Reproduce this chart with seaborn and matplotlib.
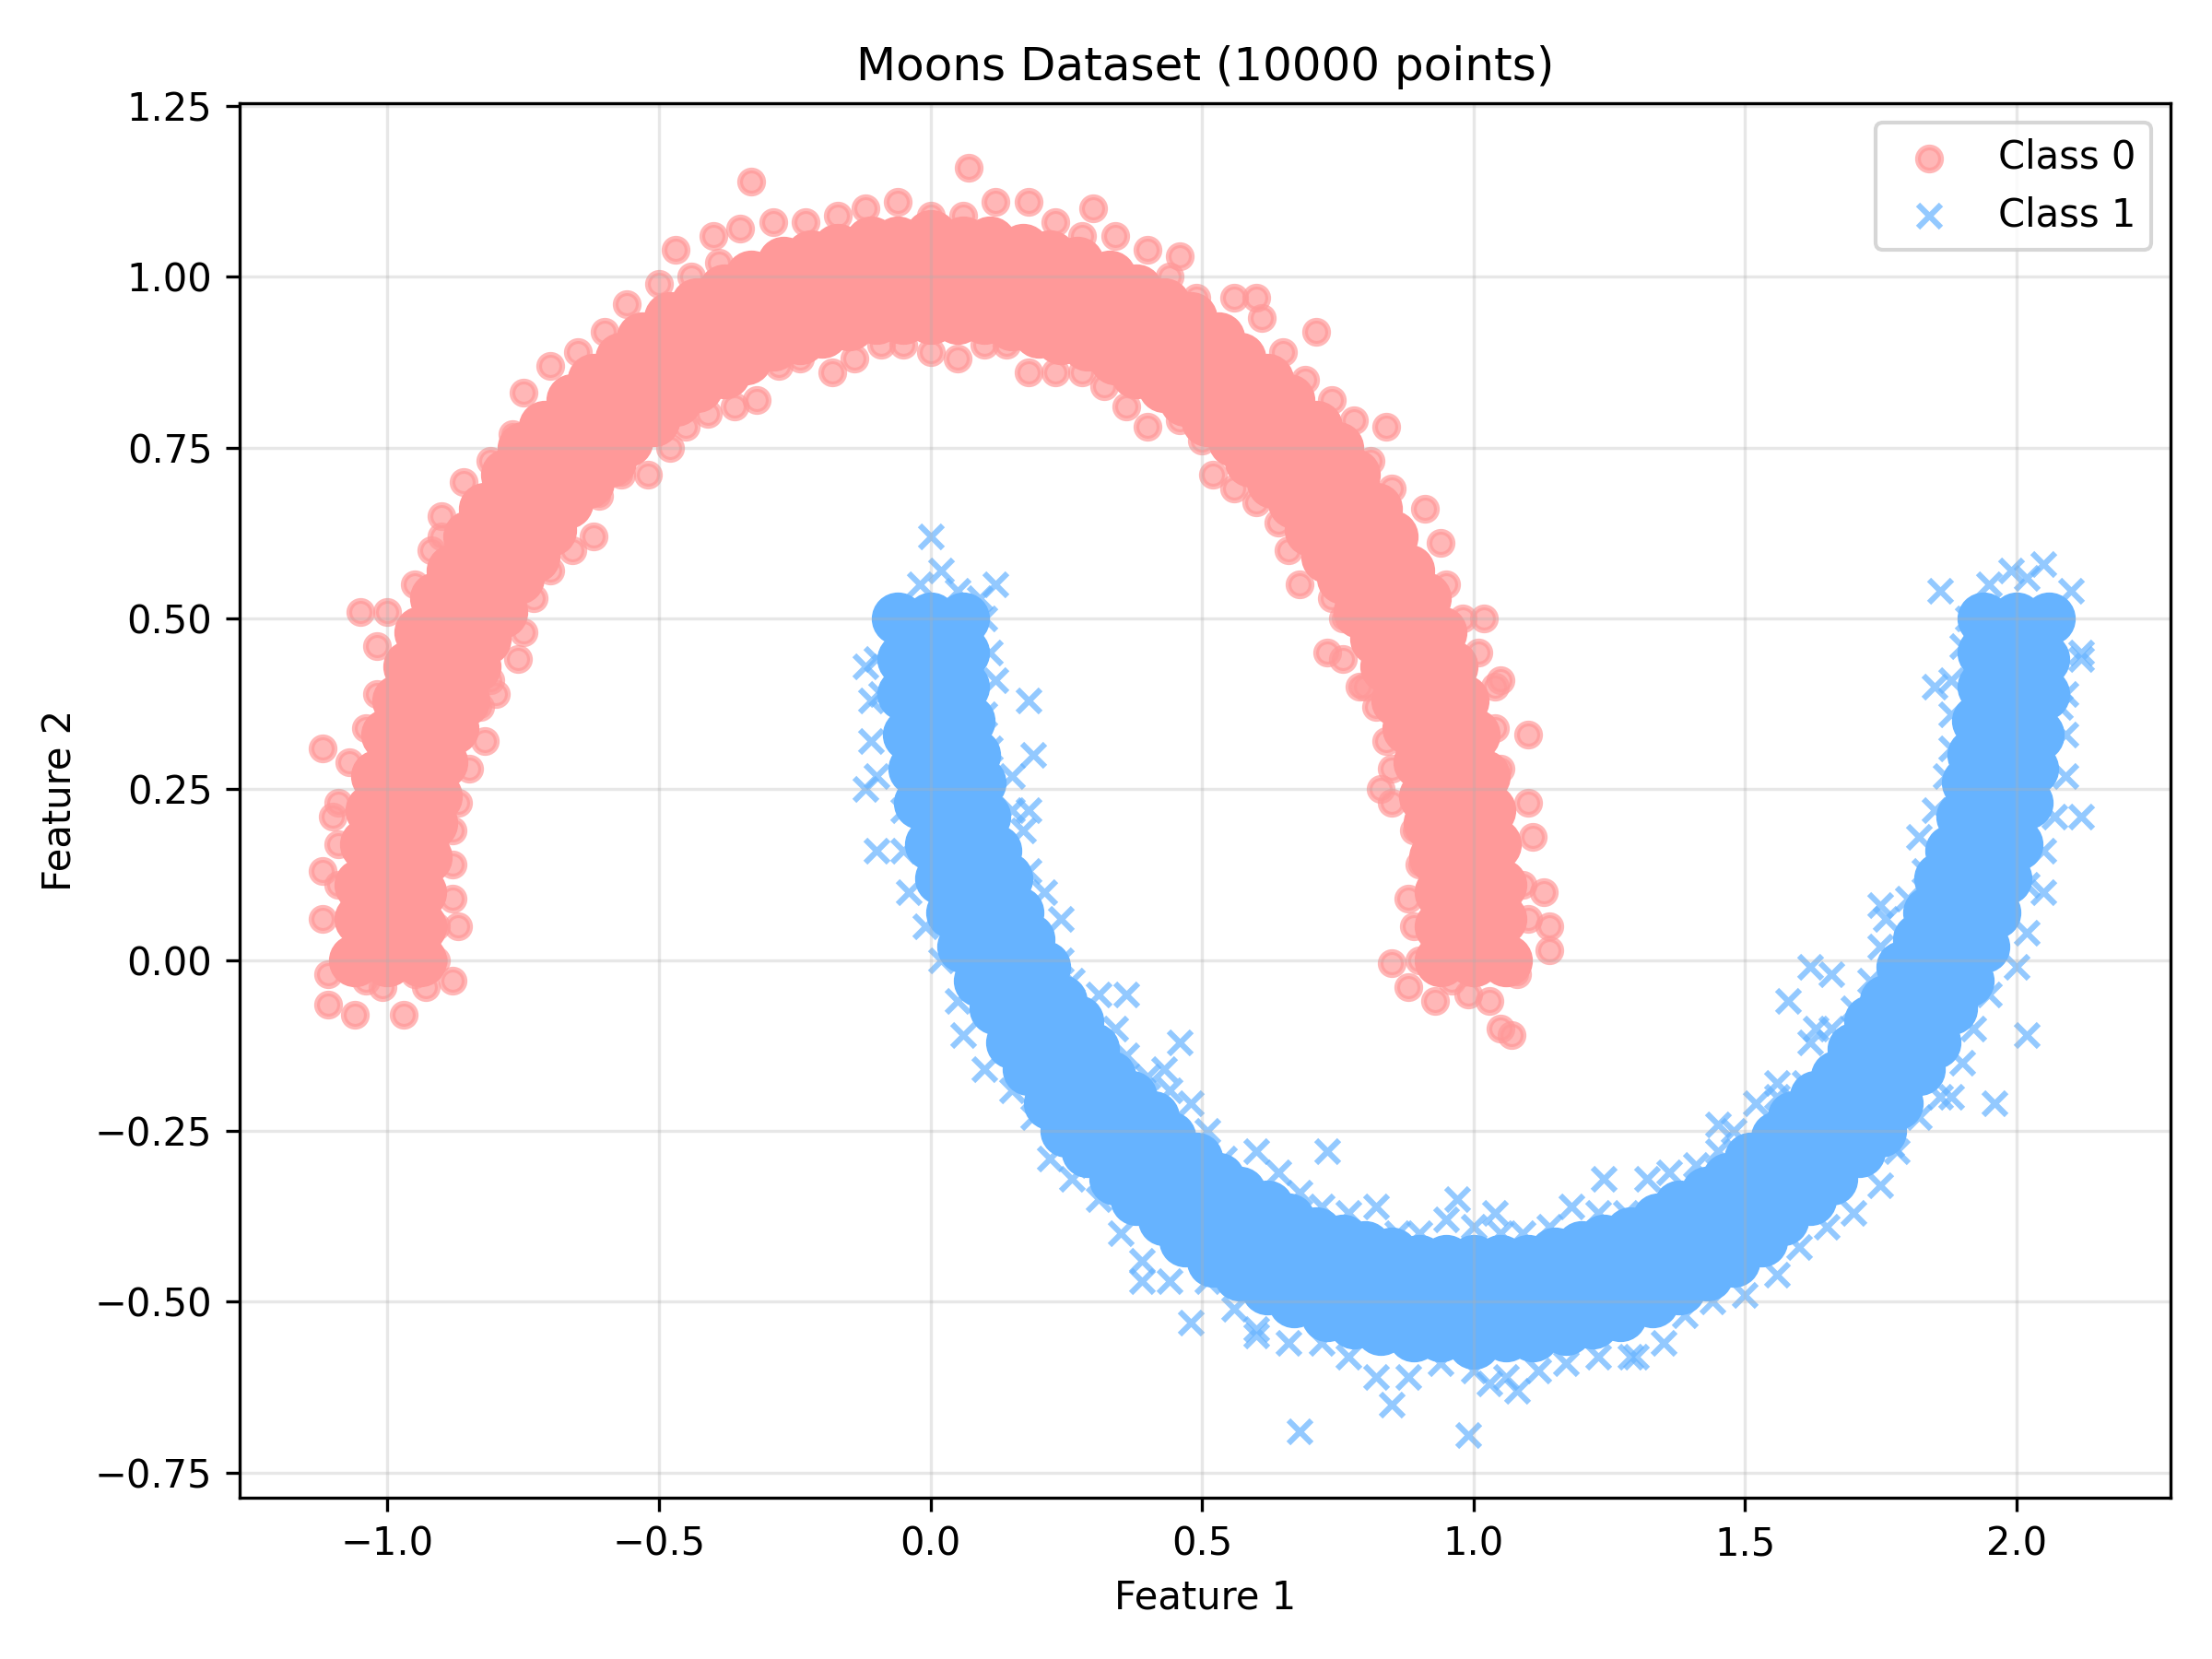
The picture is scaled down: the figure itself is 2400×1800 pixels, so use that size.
import matplotlib
matplotlib.use("Agg")
import matplotlib.pyplot as plt
import seaborn as sns

# --- Class 0 (upper moon): dense core of the band, read as three rows ---
c0_row1_x = [0.94, 0.94, 0.94, 0.93, 0.92, 0.91, 0.90, 0.88, 0.86, 0.84, 0.82, 0.79, 0.76, 0.73, 0.70, 0.67,
             0.63, 0.59, 0.56, 0.51, 0.47, 0.43, 0.38, 0.34, 0.29, 0.24, 0.20, 0.15, 0.10, 0.05, 0.00,
             -0.05, -0.10, -0.15, -0.20, -0.24, -0.29, -0.34, -0.38, -0.43, -0.47, -0.51, -0.56, -0.59, -0.63,
             -0.67, -0.70, -0.73, -0.76, -0.79, -0.82, -0.84, -0.86, -0.88, -0.90, -0.91, -0.92, -0.93, -0.94,
             -0.94, -0.94]
c0_row1_y = [0.00, 0.05, 0.10, 0.15, 0.20, 0.24, 0.29, 0.34, 0.38, 0.43, 0.47, 0.51, 0.56, 0.59, 0.63, 0.67,
             0.70, 0.73, 0.76, 0.79, 0.82, 0.84, 0.86, 0.88, 0.90, 0.91, 0.92, 0.93, 0.94, 0.94, 0.94,
             0.94, 0.94, 0.93, 0.92, 0.91, 0.90, 0.88, 0.86, 0.84, 0.82, 0.79, 0.76, 0.73, 0.70,
             0.67, 0.63, 0.59, 0.56, 0.51, 0.47, 0.43, 0.38, 0.34, 0.29, 0.24, 0.20, 0.15, 0.10,
             0.05, 0.00]
c0_row2_x = [1.00, 1.00, 0.99, 0.99, 0.98, 0.97, 0.95, 0.93, 0.91, 0.89, 0.87, 0.84, 0.81, 0.78, 0.74, 0.71,
             0.67, 0.63, 0.59, 0.54, 0.50, 0.45, 0.41, 0.36, 0.31, 0.26, 0.21, 0.16, 0.10, 0.05, 0.00,
             -0.05, -0.10, -0.16, -0.21, -0.26, -0.31, -0.36, -0.41, -0.45, -0.50, -0.54, -0.59, -0.63, -0.67,
             -0.71, -0.74, -0.78, -0.81, -0.84, -0.87, -0.89, -0.91, -0.93, -0.95, -0.97, -0.98, -0.99, -0.99,
             -1.00, -1.00]
c0_row2_y = [0.00, 0.05, 0.10, 0.16, 0.21, 0.26, 0.31, 0.36, 0.41, 0.45, 0.50, 0.54, 0.59, 0.63, 0.67, 0.71,
             0.74, 0.78, 0.81, 0.84, 0.87, 0.89, 0.91, 0.93, 0.95, 0.97, 0.98, 0.99, 0.99, 1.00, 1.00,
             1.00, 0.99, 0.99, 0.98, 0.97, 0.95, 0.93, 0.91, 0.89, 0.87, 0.84, 0.81, 0.78, 0.74,
             0.71, 0.67, 0.63, 0.59, 0.54, 0.50, 0.45, 0.41, 0.36, 0.31, 0.26, 0.21, 0.16, 0.10,
             0.05, 0.00]
c0_row3_x = [1.06, 1.05, 1.05, 1.04, 1.03, 1.02, 1.00, 0.98, 0.96, 0.94, 0.91, 0.88, 0.85, 0.82, 0.78, 0.75,
             0.71, 0.66, 0.62, 0.57, 0.53, 0.48, 0.43, 0.38, 0.33, 0.27, 0.22, 0.17, 0.11, 0.06, 0.00,
             -0.06, -0.11, -0.17, -0.22, -0.27, -0.33, -0.38, -0.43, -0.48, -0.53, -0.57, -0.62, -0.66, -0.71,
             -0.75, -0.78, -0.82, -0.85, -0.88, -0.91, -0.94, -0.96, -0.98, -1.00, -1.02, -1.03, -1.04, -1.05,
             -1.05, -1.06]
c0_row3_y = [0.00, 0.06, 0.11, 0.17, 0.22, 0.27, 0.33, 0.38, 0.43, 0.48, 0.53, 0.57, 0.62, 0.66, 0.71, 0.75,
             0.78, 0.82, 0.85, 0.88, 0.91, 0.94, 0.96, 0.98, 1.00, 1.02, 1.03, 1.04, 1.05, 1.05, 1.06,
             1.05, 1.05, 1.04, 1.03, 1.02, 1.00, 0.98, 0.96, 0.94, 0.91, 0.88, 0.85, 0.82, 0.78,
             0.75, 0.71, 0.66, 0.62, 0.57, 0.53, 0.48, 0.43, 0.38, 0.33, 0.27, 0.22, 0.17, 0.11,
             0.06, 0.00]

# Class 0: loose points along the inner / outer rim of the band, plus stray points
c0_inner_x = [0.89, 0.90, 0.85, 0.84, 0.79, 0.76, 0.68, 0.64, 0.56, 0.50, 0.40, 0.32, 0.23, 0.14, 0.05,
              -0.05, -0.14, -0.24, -0.32, -0.41, -0.48, -0.57, -0.62, -0.70, -0.75, -0.81, -0.82, -0.87, -0.88, -0.91]
c0_inner_y = [0.05, 0.14, 0.23, 0.32, 0.40, 0.50, 0.55, 0.64, 0.69, 0.76, 0.78, 0.84, 0.86, 0.90, 0.88,
              0.90, 0.88, 0.88, 0.82, 0.80, 0.75, 0.71, 0.62, 0.57, 0.48, 0.41, 0.32, 0.23, 0.14, 0.05]
c0_inner2_x = [0.90, 0.88, 0.89, 0.85, 0.82, 0.76, 0.74, 0.66, 0.60, 0.52, 0.46, 0.36, 0.28, 0.18, 0.10, 0.00,
               -0.09, -0.18, -0.28, -0.36, -0.45, -0.52, -0.61, -0.66, -0.73, -0.76, -0.83, -0.85, -0.88, -0.88, -0.91]
c0_inner2_y = [0.00, 0.09, 0.19, 0.28, 0.37, 0.44, 0.53, 0.60, 0.67, 0.71, 0.79, 0.81, 0.86, 0.86, 0.90, 0.89,
               0.90, 0.86, 0.87, 0.81, 0.78, 0.71, 0.68, 0.60, 0.53, 0.44, 0.37, 0.28, 0.19, 0.09, 0.00]
c0_outer_x = [1.09, 1.10, 1.04, 1.01, 0.95, 0.91, 0.81, 0.74, 0.65, 0.56, 0.44, 0.34, 0.23, 0.12, 0.00,
              -0.12, -0.23, -0.35, -0.44, -0.56, -0.65, -0.75, -0.81, -0.90, -0.95, -1.02, -1.04, -1.09, -1.09]
c0_outer_y = [0.11, 0.23, 0.34, 0.45, 0.55, 0.66, 0.73, 0.82, 0.89, 0.97, 1.00, 1.06, 1.08, 1.11, 1.09,
              1.10, 1.08, 1.07, 1.00, 0.96, 0.89, 0.83, 0.73, 0.65, 0.55, 0.46, 0.34, 0.23, 0.11]
c0_outer2_x = [1.10, 1.11, 1.05, 1.04, 0.98, 0.94, 0.85, 0.78, 0.69, 0.61, 0.49, 0.40, 0.28, 0.18, 0.06,
               -0.06, -0.17, -0.29, -0.39, -0.50, -0.60, -0.70, -0.77, -0.86, -0.92, -1.00, -1.02, -1.07, -1.09, -1.12]
c0_outer2_y = [0.06, 0.18, 0.28, 0.40, 0.50, 0.61, 0.69, 0.79, 0.85, 0.94, 0.97, 1.04, 1.06, 1.11, 1.09,
               1.11, 1.09, 1.08, 1.02, 0.99, 0.92, 0.87, 0.77, 0.70, 0.60, 0.51, 0.39, 0.29, 0.17, 0.06]
c0_stray_x = [-0.33, 0.07, -0.40, -0.47, 0.30, 0.46, 0.60, 0.71, 0.84, 0.73, 0.80, 0.83, 1.02, 1.05, 1.10,
              1.13, 1.14, 1.14, 1.05, 1.07, 0.85, 0.88, 0.93, 0.99, 1.03, 1.08, 0.96, -1.05, -1.12, -1.10,
              -1.12, -1.11, -1.11, -1.06, -0.97, -0.93, -0.88, -0.87, -1.01, -1.04, -0.95, -0.80, -0.90]
c0_stray_y = [1.14, 1.16, 1.06, 1.04, 1.10, 1.03, 0.97, 0.92, 0.78, 0.45, 0.40, 0.25, 0.50, 0.41, 0.33,
              0.10, 0.05, 0.015, -0.10, -0.11, -0.005, -0.04, -0.06, -0.05, -0.06, -0.02, -0.03, 0.51, 0.31, 0.21,
              0.13, -0.02, -0.065, -0.08, -0.08, -0.04, -0.03, 0.05, -0.04, -0.03, -0.02, 0.39, 0.62]

# --- Class 1 (lower moon): dense core of the band, three rows ---
c1_row1_x = [0.06, 0.06, 0.06, 0.07, 0.08, 0.09, 0.10, 0.12, 0.14, 0.16, 0.18, 0.21, 0.24, 0.27, 0.30, 0.33,
             0.37, 0.41, 0.44, 0.49, 0.53, 0.57, 0.62, 0.66, 0.71, 0.76, 0.80, 0.85, 0.90, 0.95, 1.00,
             1.05, 1.10, 1.15, 1.20, 1.24, 1.29, 1.34, 1.38, 1.43, 1.47, 1.51, 1.56, 1.59, 1.63,
             1.67, 1.70, 1.73, 1.76, 1.79, 1.82, 1.84, 1.86, 1.88, 1.90, 1.91, 1.92, 1.93, 1.94,
             1.94, 1.94]
c1_row1_y = [0.50, 0.45, 0.40, 0.35, 0.30, 0.26, 0.21, 0.16, 0.12, 0.07, 0.03, -0.01, -0.06, -0.09, -0.13, -0.17,
             -0.20, -0.23, -0.26, -0.29, -0.32, -0.34, -0.36, -0.38, -0.40, -0.41, -0.42, -0.43, -0.44, -0.44, -0.44,
             -0.44, -0.44, -0.43, -0.42, -0.41, -0.40, -0.38, -0.36, -0.34, -0.32, -0.29, -0.26, -0.23, -0.20,
             -0.17, -0.13, -0.09, -0.06, -0.01, 0.03, 0.07, 0.12, 0.16, 0.21, 0.26, 0.30, 0.35, 0.40,
             0.45, 0.50]
c1_row2_x = [0.00, 0.00, 0.01, 0.01, 0.02, 0.03, 0.05, 0.07, 0.09, 0.11, 0.13, 0.16, 0.19, 0.22, 0.26, 0.29,
             0.33, 0.37, 0.41, 0.46, 0.50, 0.55, 0.59, 0.64, 0.69, 0.74, 0.79, 0.84, 0.90, 0.95, 1.00,
             1.05, 1.10, 1.16, 1.21, 1.26, 1.31, 1.36, 1.41, 1.45, 1.50, 1.54, 1.59, 1.63, 1.67,
             1.71, 1.74, 1.78, 1.81, 1.84, 1.87, 1.89, 1.91, 1.93, 1.95, 1.97, 1.98, 1.99, 1.99,
             2.00, 2.00]
c1_row2_y = [0.50, 0.45, 0.40, 0.34, 0.29, 0.24, 0.19, 0.14, 0.09, 0.05, 0.00, -0.04, -0.09, -0.13, -0.17, -0.21,
             -0.24, -0.28, -0.31, -0.34, -0.37, -0.39, -0.41, -0.43, -0.45, -0.47, -0.48, -0.49, -0.49, -0.50, -0.50,
             -0.50, -0.49, -0.49, -0.48, -0.47, -0.45, -0.43, -0.41, -0.39, -0.37, -0.34, -0.31, -0.28, -0.24,
             -0.21, -0.17, -0.13, -0.09, -0.04, 0.00, 0.05, 0.09, 0.14, 0.19, 0.24, 0.29, 0.34, 0.40,
             0.45, 0.50]
c1_row3_x = [-0.06, -0.05, -0.05, -0.04, -0.03, -0.02, 0.00, 0.02, 0.04, 0.06, 0.09, 0.12, 0.15, 0.18, 0.22, 0.25,
             0.29, 0.34, 0.38, 0.43, 0.47, 0.52, 0.57, 0.62, 0.67, 0.73, 0.78, 0.83, 0.89, 0.94, 1.00,
             1.06, 1.11, 1.17, 1.22, 1.27, 1.33, 1.38, 1.43, 1.48, 1.53, 1.57, 1.62, 1.66, 1.71,
             1.75, 1.78, 1.82, 1.85, 1.88, 1.91, 1.94, 1.96, 1.98, 2.00, 2.02, 2.03, 2.04, 2.05,
             2.05, 2.06]
c1_row3_y = [0.50, 0.44, 0.39, 0.33, 0.28, 0.23, 0.17, 0.12, 0.07, 0.02, -0.03, -0.07, -0.12, -0.16, -0.21, -0.25,
             -0.28, -0.32, -0.35, -0.38, -0.41, -0.44, -0.46, -0.48, -0.50, -0.52, -0.53, -0.54, -0.55, -0.55, -0.56,
             -0.55, -0.55, -0.54, -0.53, -0.52, -0.50, -0.48, -0.46, -0.44, -0.41, -0.38, -0.35, -0.32, -0.28,
             -0.25, -0.21, -0.16, -0.12, -0.07, -0.03, 0.02, 0.07, 0.12, 0.17, 0.23, 0.28, 0.33, 0.39,
             0.44, 0.50]

# Class 1: loose points along both rims of the band, plus stray points
c1_inner_x = [0.11, 0.10, 0.15, 0.17, 0.21, 0.24, 0.31, 0.36, 0.44, 0.51, 0.60, 0.68, 0.77, 0.86, 0.95,
              1.05, 1.14, 1.23, 1.32, 1.41, 1.48, 1.56, 1.62, 1.70, 1.75, 1.80, 1.82, 1.87, 1.88, 1.90]
c1_inner_y = [0.45, 0.36, 0.27, 0.19, 0.10, 0.00, -0.05, -0.14, -0.19, -0.25, -0.28, -0.34, -0.37, -0.40, -0.38,
              -0.40, -0.39, -0.37, -0.32, -0.30, -0.25, -0.20, -0.12, -0.07, 0.02, 0.09, 0.18, 0.27, 0.36, 0.46]
c1_inner2_x = [0.10, 0.12, 0.11, 0.15, 0.18, 0.24, 0.26, 0.34, 0.40, 0.48, 0.54, 0.64, 0.72, 0.82, 0.90, 1.00,
               1.09, 1.18, 1.28, 1.36, 1.45, 1.52, 1.61, 1.66, 1.73, 1.76, 1.83, 1.85, 1.88, 1.88, 1.91]
c1_inner2_y = [0.50, 0.41, 0.31, 0.22, 0.13, 0.06, -0.03, -0.10, -0.17, -0.21, -0.29, -0.31, -0.36, -0.36, -0.40, -0.39,
               -0.40, -0.36, -0.37, -0.31, -0.28, -0.21, -0.18, -0.10, -0.03, 0.06, 0.13, 0.22, 0.31, 0.41, 0.50]
c1_outer_x = [-0.09, -0.10, -0.05, -0.01, 0.05, 0.10, 0.19, 0.26, 0.35, 0.44, 0.56, 0.66, 0.77, 0.88, 1.00,
              1.12, 1.23, 1.35, 1.44, 1.56, 1.65, 1.75, 1.82, 1.90, 1.95, 2.02, 2.05, 2.09, 2.09]
c1_outer_y = [0.39, 0.27, 0.16, 0.05, -0.06, -0.16, -0.23, -0.32, -0.40, -0.47, -0.51, -0.56, -0.58, -0.61, -0.60,
              -0.60, -0.58, -0.56, -0.50, -0.46, -0.39, -0.33, -0.23, -0.15, -0.05, 0.04, 0.16, 0.27, 0.39]
c1_outer2_x = [-0.10, -0.11, -0.05, -0.04, 0.02, 0.06, 0.15, 0.22, 0.31, 0.39, 0.51, 0.60, 0.72, 0.82, 0.94,
               1.06, 1.17, 1.29, 1.39, 1.50, 1.60, 1.70, 1.77, 1.86, 1.92, 2.00, 2.02, 2.07, 2.09, 2.12]
c1_outer2_y = [0.44, 0.32, 0.22, 0.10, 0.00, -0.11, -0.19, -0.29, -0.35, -0.44, -0.47, -0.54, -0.56, -0.61, -0.59,
               -0.61, -0.59, -0.58, -0.52, -0.49, -0.42, -0.37, -0.27, -0.20, -0.10, -0.01, 0.11, 0.21, 0.33, 0.44]
c1_stray_x = [0.00, 0.02, 0.12, 0.09, -0.12, -0.11, -0.10, -0.12, 0.18, 0.19, 0.18, 0.46, 0.43, 0.36, 0.73,
              0.68, 0.85, 0.99, 1.03, 1.08, 0.48, 0.39, 0.97, 1.04, 1.24, 1.58, 1.62, 1.66, 1.63, 1.75,
              1.78, 1.96, 2.02, 2.12, 2.12, 2.08, 1.86, 2.10, 2.05, 1.99, 1.85, 2.05, 1.88, 1.56, 1.45,
              1.30, 0.60, 0.30, -0.02, 0.05, 1.95, 2.02]
c1_stray_y = [0.62, 0.57, 0.55, 0.53, 0.43, 0.38, 0.16, 0.25, 0.38, 0.30, 0.22, -0.12, -0.16, -0.05, -0.28,
              -0.69, -0.65, -0.695, -0.62, -0.63, -0.53, -0.47, -0.35, -0.37, -0.32, -0.06, -0.01, -0.02, -0.10, 0.08,
              -0.28, -0.21, -0.11, 0.45, 0.21, 0.37, 0.54, 0.54, 0.58, 0.57, 0.40, 0.10, -0.20, -0.18, -0.24,
              -0.58, -0.55, -0.30, 0.55, 0.54, 0.55, 0.56]

RED = "#ff9999"
BLUE = "#66b3ff"

# 밴드 중심부는 원본에서 수천 개 점이 겹쳐 색이 꽉 차 있음 -> 큰 마커로 채움
c0_core_x = c0_row1_x + c0_row2_x + c0_row3_x
c0_core_y = c0_row1_y + c0_row2_y + c0_row3_y
c1_core_x = c1_row1_x + c1_row2_x + c1_row3_x
c1_core_y = c1_row1_y + c1_row2_y + c1_row3_y

c0_x = c0_inner_x + c0_inner2_x + c0_outer_x + c0_outer2_x + c0_stray_x
c0_y = c0_inner_y + c0_inner2_y + c0_outer_y + c0_outer2_y + c0_stray_y
c1_x = c1_inner_x + c1_inner2_x + c1_outer_x + c1_outer2_x + c1_stray_x
c1_y = c1_inner_y + c1_inner2_y + c1_outer_y + c1_outer2_y + c1_stray_y

fig, ax = plt.subplots(figsize=(8, 6))

sns.scatterplot(x=c0_core_x, y=c0_core_y, color=RED, marker="o", s=150, alpha=1.0,
                edgecolor=RED, linewidth=1.5, legend=False, ax=ax)
sns.scatterplot(x=c0_x, y=c0_y, color=RED, marker="o", s=36, alpha=0.7,
                edgecolor=RED, linewidth=1.5, label="Class 0", ax=ax)

sns.scatterplot(x=c1_core_x, y=c1_core_y, color=BLUE, marker="o", s=150, alpha=1.0,
                edgecolor=BLUE, linewidth=1.5, legend=False, ax=ax)
sns.scatterplot(x=c1_x, y=c1_y, color=BLUE, marker="x", s=36, alpha=0.7,
                linewidth=1.5, label="Class 1", ax=ax)

ax.set_xlim(-1.273, 2.284)
ax.set_ylim(-0.787, 1.254)
ax.set_title("Moons Dataset (10000 points)")
ax.set_xlabel("Feature 1")
ax.set_ylabel("Feature 2")
ax.grid(True, alpha=0.3)
ax.legend(loc="upper right")

plt.tight_layout()
plt.savefig("out.png", dpi=300)
